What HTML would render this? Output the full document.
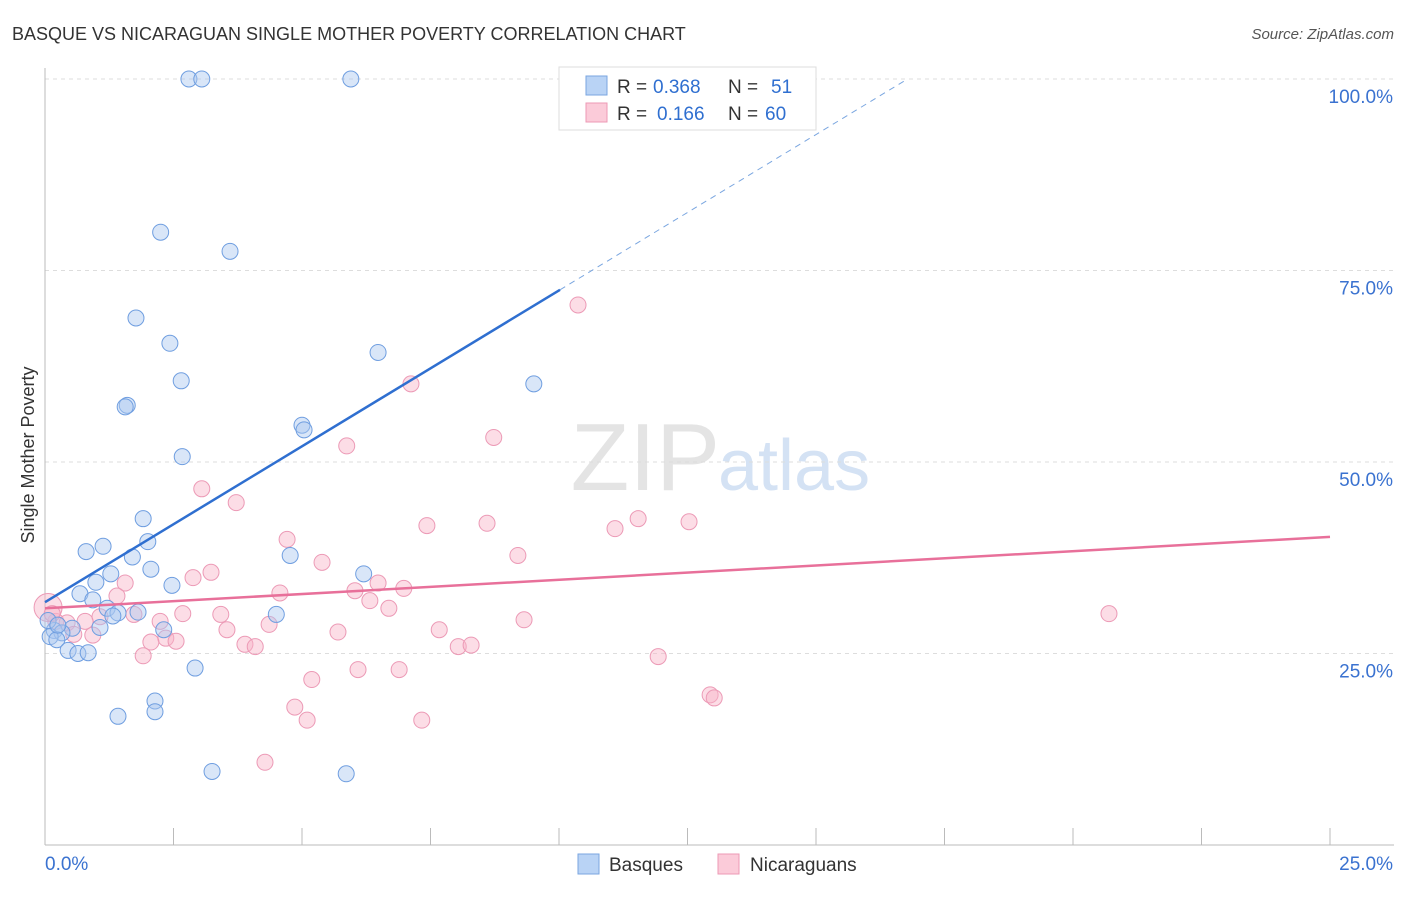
<!DOCTYPE html>
<html><head><meta charset="utf-8">
<style>
body{margin:0;background:#fff;font-family:"Liberation Sans",sans-serif;}
svg text{font-family:"Liberation Sans",sans-serif;}
</style></head>
<body>
<svg id="chart" width="1406" height="892">
<text x="12" y="40" font-size="18" fill="#333">BASQUE VS NICARAGUAN SINGLE MOTHER POVERTY CORRELATION CHART</text>
<text x="1394" y="39" font-size="15" fill="#555" text-anchor="end" font-style="italic">Source: ZipAtlas.com</text>
<text x="720" y="490" font-size="96" fill="#e4e4e4" text-anchor="end" font-family="Liberation Serif">ZIP</text>
<text x="718" y="490" font-size="72" fill="#d4e2f4">atlas</text>
<g id="grid"></g>
<g id="axes"></g>
<g id="pts"></g>
<g id="lines"></g>
<text transform="translate(34,455) rotate(-90)" font-size="18" fill="#333" text-anchor="middle">Single Mother Poverty</text>
<g>
<rect x="559" y="67" width="257" height="63" fill="#fff" stroke="#ddd"/>
<rect x="586" y="76" width="21" height="19" fill="#b9d3f5" stroke="#7aa6e0"/>
<rect x="586" y="103" width="21" height="19" fill="#fbcbd9" stroke="#ec99b5"/>
<text x="617" y="93" font-size="19" fill="#333">R =</text>
<text x="653" y="93" font-size="19" fill="#2f6fd0">0.368</text>
<text x="728" y="93" font-size="19" fill="#333">N =</text>
<text x="771" y="93" font-size="19" fill="#2f6fd0">51</text>
<text x="617" y="120" font-size="19" fill="#333">R =</text>
<text x="657" y="120" font-size="19" fill="#2f6fd0">0.166</text>
<text x="728" y="120" font-size="19" fill="#333">N =</text>
<text x="765" y="120" font-size="19" fill="#2f6fd0">60</text>
</g>
<g>
<rect x="578" y="854" width="21" height="20" fill="#b9d3f5" stroke="#7aa6e0"/>
<text x="609" y="871" font-size="19" fill="#333">Basques</text>
<rect x="718" y="854" width="21" height="20" fill="#fbcbd9" stroke="#ec99b5"/>
<text x="750" y="871" font-size="19" fill="#333">Nicaraguans</text>
</g>
</svg>
<script>
const basqueX=[2.8,3.05,5.95,2.25,3.6,1.77,2.43,6.48,2.65,9.51,1.6,1.56,5.0,5.04,2.67,1.91,2.0,0.8,1.13,1.7,2.06,1.28,0.99,2.47,6.2,4.77,0.68,0.93,1.21,1.42,1.81,1.32,4.5,1.07,2.31,0.53,0.18,0.33,0.1,0.23,0.45,0.64,0.84,2.92,2.14,2.14,1.42,3.25,5.86,0.06,0.25];
const basqueY=[100,100,100,80,77.5,68.8,65.5,64.3,60.6,60.2,57.4,57.2,54.8,54.2,50.7,42.6,39.6,38.3,39,37.6,36,35.4,34.3,33.9,35.4,37.8,32.8,32,30.9,30.3,30.4,29.9,30.1,28.4,28.1,28.3,28,27.7,27.2,26.8,25.4,25,25.1,23.1,18.8,17.4,16.8,9.6,9.3,29.3,28.7];
const nicX=[10.37,7.12,8.73,5.87,3.05,3.72,7.43,8.6,11.09,11.54,12.53,4.71,9.2,5.39,3.23,2.88,1.56,4.57,6.03,6.48,6.98,1.4,6.32,6.69,2.68,3.42,1.73,2.24,1.07,0.21,0.43,0.78,9.32,20.7,4.36,3.54,5.7,7.67,0.93,0.56,2.35,2.55,2.06,3.89,4.09,8.04,8.29,1.91,11.93,6.09,6.89,5.19,12.94,13.02,4.86,5.1,7.33,4.28,0.06,0.14];
const nicY=[70.5,60.2,53.2,52.1,46.5,44.7,41.7,42,41.3,42.6,42.2,39.9,37.8,36.9,35.6,34.9,34.2,32.9,33.2,34.2,33.5,32.5,31.9,30.9,30.2,30.1,30.1,29.2,29.8,29.2,29,29.2,29.4,30.2,28.8,28.1,27.8,28.1,27.4,27.5,27,26.6,26.5,26.2,25.9,25.9,26.1,24.7,24.6,22.9,22.9,21.6,19.6,19.2,18,16.3,16.3,10.8,31,30.2];
const yTicks=[25,50,75,100];
const blueFit=[31.7,4.07];
const pinkFit=[30.9,0.373];
const X=v=>45+v/25*1285, Y=v=>845-v*7.66;
const NS='http://www.w3.org/2000/svg';
function mk(parent,tag,attrs){const e=document.createElementNS(NS,tag);for(const k in attrs)e.setAttribute(k,attrs[k]);document.getElementById(parent).appendChild(e);return e;}
for(const t of yTicks){
 const g=mk('grid','line',{x1:45,x2:1394,y1:Y(t),y2:Y(t),stroke:'#ddd','stroke-dasharray':'4,4'});
 
 
 const tx=mk('grid','text',{x:1393,y:Y(t)+24,'font-size':19,fill:'#3a72d0','text-anchor':'end'});
 tx.textContent=t.toFixed(1)+'%';
 
 
}
const ax=mk('axes','line',{x1:45,x2:1394,y1:845,y2:845,stroke:'#bbb'});


const ay=mk('axes','line',{x1:45,x2:45,y1:68,y2:845,stroke:'#bbb'});


for(let i=1;i<=10;i++){const x=45+i*128.5;const tk=mk('axes','line',{x1:x,x2:x,y1:828,y2:845,stroke:'#bbb'});
 
 }
const l0=mk('axes','text',{x:45,y:870,'font-size':19,fill:'#3a72d0'});l0.textContent='0.0%';


const l1=mk('axes','text',{x:1393,y:870,'font-size':19,fill:'#3a72d0','text-anchor':'end'});l1.textContent='25.0%';


nicX.forEach((x,i)=>{const c=mk('pts','circle',{cx:X(x),cy:Y(nicY[i]),r:(i==58?14:8),fill:'rgba(248,180,200,0.45)',stroke:'#ec9ab6','stroke-width':1});
 
 });
basqueX.forEach((x,i)=>{const c=mk('pts','circle',{cx:X(x),cy:Y(basqueY[i]),r:8,fill:'rgba(170,200,240,0.45)',stroke:'#6f9ee0','stroke-width':1});
 
 });
const bEnd=10.02, bMax=(100-blueFit[0])/blueFit[1];
const bl=mk('lines','line',{x1:X(0),y1:Y(blueFit[0]),x2:X(bEnd),y2:Y(blueFit[0]+blueFit[1]*bEnd),stroke:'#2f6fd0','stroke-width':2.5});


const bd=mk('lines','line',{x1:X(bEnd),y1:Y(blueFit[0]+blueFit[1]*bEnd),x2:X(bMax),y2:Y(100),stroke:'#7aa6e0','stroke-width':1,'stroke-dasharray':'6,5'});


const pl=mk('lines','line',{x1:X(0),y1:Y(pinkFit[0]),x2:X(25),y2:Y(pinkFit[0]+pinkFit[1]*25),stroke:'#e8709a','stroke-width':2.5});


</script>
</body></html>
